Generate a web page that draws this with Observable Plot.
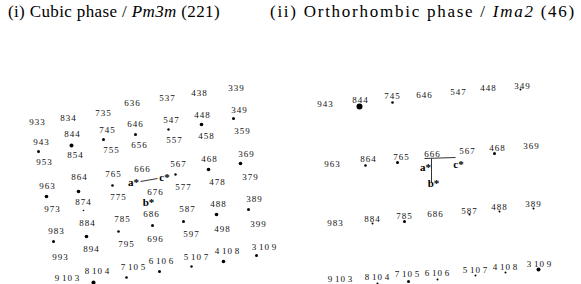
<!DOCTYPE html>
<html>
<head>
<meta charset="utf-8">
<script src="https://cdn.jsdelivr.net/npm/d3@7"></script>
<script src="https://cdn.jsdelivr.net/npm/@observablehq/plot@0.6"></script>
<style>
  body { margin: 0; background: #fff; }
  #wrap { position: relative; width: 581px; height: 284px; overflow: hidden; }
  .ttl { position: absolute; top: 2px; font-family: "Liberation Serif", "Times New Roman", Times, "DejaVu Serif", serif; font-size: 17px; color: #000; white-space: nowrap; }
  #chart { position: absolute; left: 0; top: 0; }
  #chart svg text { font-family: "Liberation Serif", "Times New Roman", Times, "DejaVu Serif", serif; }
  #chart svg text.spot { letter-spacing: 1px; }
</style>
</head>
<body>
<div id="wrap">
  <div class="ttl" id="t1" style="left:8px">(i) Cubic phase / <i>Pm3m</i> (221)</div>
  <div class="ttl" id="t2" style="left:270px">(ii) Orthorhombic phase / <i>Ima2</i> (46)</div>
  <div id="chart"></div>
</div>
<script>
const H = "\u200A";
// Spot indices (hkl) and their positions on the diffraction pattern (detector pixels)
const cubicLabels = ["636","933","834","735","646","844","745","943","755","656","854","953","765","666","864",
  "537","438","339","547","448","349","557","458","359","567","468","369","379",
  "963","874","973","775","884","785","983","894","795","993","9"+H+"10"+H+"3","8"+H+"10"+H+"4","7"+H+"10"+H+"5",
  "577","478","676","686","587","488","389","696","597","498","399","6"+H+"10"+H+"6","5"+H+"10"+H+"7","4"+H+"10"+H+"8","3"+H+"10"+H+"9"];
const cubicX = [132,37,68,103,135,72,107,41,111,139,75,44,113,142,79,
  167,199,236,171,202,239,174,206,242,178,209,246,250,
  47,83,52,118,87,122,56,91,126,60,67,97,133,
  183,217,155,151,187,218,254,155,191,222,258,161,196,227,264];
const cubicY = [103,122,118,113,124,134,130,142,150,145,155,162,174,169,177,
  98,93,88,120,115,110,140,136,131,164,159,154,177,
  186,202,209,197,223,219,231,249,244,257,278,271,267,
  187,182,192,214,209,204,199,239,234,229,224,261,257,251,247];

const orthoLabels = ["943","844","745","646","547","448","349",
  "963","864","765","666","567","468","369",
  "983","884","785","686","587","488","389",
  "9"+H+"10"+H+"3","8"+H+"10"+H+"4","7"+H+"10"+H+"5","6"+H+"10"+H+"6","5"+H+"10"+H+"7","4"+H+"10"+H+"8","3"+H+"10"+H+"9"];
const orthoX = [325,360,392,424,458,488,522,
  332,368,401,432,467,497,531,
  335,372,404,435,469,499,533,
  340,377,407,437,475,505,539];
const orthoY = [104,100,96,95,92,88,86,
  164,159,157,154,151,148,146,
  223,219,216,214,211,207,204,
  279,277,274,273,270,267,264];

// Visible reflections: position and relative intensity (1 weak .. 3 strong)
const dotX = [135,71,103,38,168,201,233,208,240,46,78,112,83,86,118,53,93,126,152,183,216,248,159,191,223,256,175,
  359,392,365,397,494,520,372,404,469,499,533,377,408,437,475,505,538];
const dotY = [134,145,139,151,129,124,118,169,163,196,191,185,210,236,231,241,282,277,225,221,214,209,271,266,261,255,174,
  106,102,165,162,153,89,223,221,214,211,208,283,281,279,275,272,269];
const dotI = [1.5,2,1.5,1.5,1.2,1.8,1.5,1.8,1.8,1.8,1.8,1.3,0.8,1.8,1.3,1.5,2,1.3,1.5,1.5,1.8,1.5,1.5,1.2,1.8,1.5,1.2,
  3,1.3,1.3,1.5,1.5,1,1,1.5,1,1,1,1,1.5,1,1,1,2];

// Reciprocal axes labels
const axisLabels = ["a*","c*","b*","a*","c*","b*"];
const axisX = [133,164,148,425,458,433];
const axisY = [182,177,202,167,164,183];
const axisLines = [
  {x1:140,y1:181,x2:157,y2:178},
  {x1:424,y1:158,x2:455,y2:157},
  {x1:431,y1:158,x2:431,y2:182}
];

const spots = cubicLabels.map((t,i)=>({t,x:cubicX[i],y:cubicY[i]}))
  .concat(orthoLabels.map((t,i)=>({t,x:orthoX[i],y:orthoY[i]})));
const dots = dotX.map((x,i)=>({x,y:dotY[i],r:dotI[i]}));
const axes = axisLabels.map((t,i)=>({t,x:axisX[i],y:axisY[i]}));

const chart = Plot.plot({
  width: 581, height: 284,
  margin: 0,
  x: {domain: [0,581], range: [0,581], axis: null},
  y: {domain: [0,284], range: [0,284], axis: null},
  r: {type: "identity"},
  style: {fontFamily: "'Liberation Serif', 'Times New Roman', Times, 'DejaVu Serif', serif", background: "transparent"},
  marks: [
    Plot.link(axisLines, {x1:"x1", y1:"y1", x2:"x2", y2:"y2", stroke:"#333", strokeWidth:1}),
    Plot.dot(dots, {x:"x", y:"y", r:"r", fill:"#000", stroke:null}),
    Plot.text(spots, {x:"x", y:"y", text:"t", fontSize:9, fill:"#111"}),
    Plot.text(axes, {x:"x", y:"y", text:"t", fontSize:11, fontWeight:"bold", fill:"#000"})
  ]
});
document.getElementById("chart").appendChild(chart);
const tg = chart.querySelectorAll("g[aria-label=text]");
if (tg[0]) tg[0].querySelectorAll("text").forEach(t => t.classList.add("spot"));

// stretch titles to the reference widths
[["t1",212],["t2",306]].forEach(([id,target])=>{
  const el = document.getElementById(id);
  const w = el.getBoundingClientRect().width;
  const n = el.textContent.length;
  const ls = (target - w) / n;
  if (ls > 0) el.style.letterSpacing = ls.toFixed(2) + "px";
});
</script>
</body>
</html>
